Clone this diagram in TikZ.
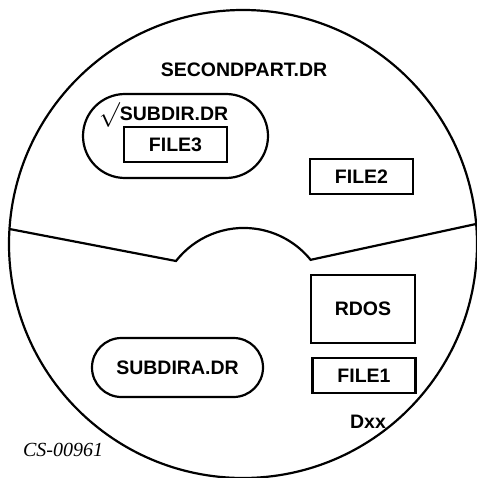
\documentclass[tikz,border=0pt]{standalone}
\usepackage{fontspec}
\setmainfont{Liberation Sans}
\newfontfamily\csfont{Liberation Serif}
\usetikzlibrary{shapes.misc}

\begin{document}
\begin{tikzpicture}[x=1pt, y=-1pt, line width=2.2pt,
    every node/.style={font=\bfseries\fontsize{19.5}{22}\selectfont, inner sep=0pt},
    filebox/.style={draw, minimum width=103pt, minimum height=35pt},
    dirbox/.style={draw, rounded rectangle}]
    \useasboundingbox (0,0) rectangle (476,478);
    % 1. 磁盘外圆
    \draw (243,244) circle[radius=234];

    % 2. 分区线 (中间凸起的圆弧)
    \draw (9.5,229) -- (176,261) arc[start angle=218, end angle=321, radius=86] -- (476,224);

    % 3. 上半部分: SECONDPART.DR
    \node (second) at (244,70) {SECONDPART.DR};
    \node[dirbox, minimum width=185pt, minimum height=84pt] (subdir) at (175.5,136) {};
    \node[anchor=base west] (subdirlbl) at (98,121) {{\fontsize{27}{27}\selectfont$\surd$}SUBDIR.DR};
    \node[filebox] (file3) at (175.5,144.5) {FILE3};
    \node[filebox] (file2) at (361.5,176.5) {FILE2};

    % 4. 下半部分
    \node[draw, minimum width=104pt, minimum height=68pt] (rdos) at (363,309) {RDOS};
    \node[filebox] (file1) at (364,375.5) {FILE1};
    \node[dirbox, minimum width=171pt, minimum height=59pt] (subdira) at (177.5,367.5) {SUBDIRA.DR};
    \node (dxx) at (368,422) {Dxx};

    % 5. 图号
    \node[font=\csfont\itshape\fontsize{20}{22}\selectfont] (cs) at (63,450) {CS-00961};
\end{tikzpicture}
\end{document}
